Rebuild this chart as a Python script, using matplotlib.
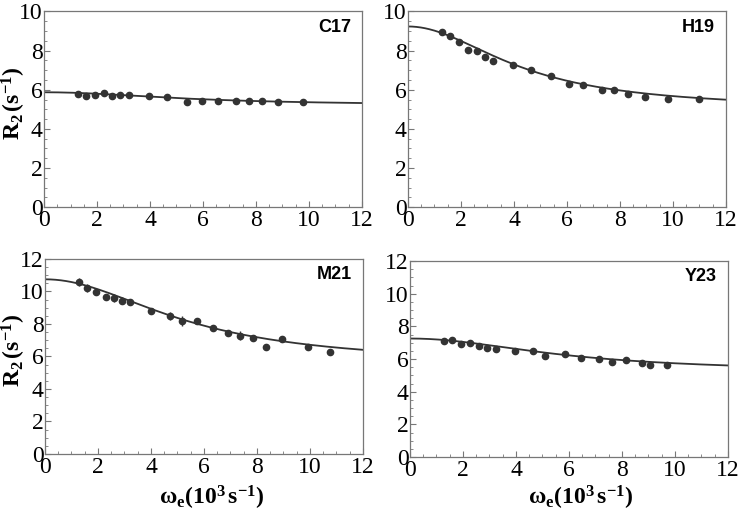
import numpy as np
import matplotlib
matplotlib.use("Agg")
import matplotlib.pyplot as plt
from matplotlib.ticker import MultipleLocator

plt.rcParams['font.family'] = 'Liberation Serif'
plt.rcParams['mathtext.fontset'] = 'custom'
plt.rcParams['mathtext.rm'] = 'Liberation Serif'
plt.rcParams['mathtext.bf'] = 'Liberation Serif:bold'
plt.rcParams['mathtext.it'] = 'Liberation Serif:italic'

# residue labels
residues = ['C17', 'H19', 'M21', 'Y23']

# measured points (omega_e in 10^3 s^-1, R2 in s^-1)
c17_x = [1.28, 1.59, 1.93, 2.27, 2.58, 2.88, 3.2, 3.98, 4.63, 5.38, 5.98, 6.58, 7.23, 7.72, 8.24, 8.84, 9.76]
c17_y = [5.78, 5.69, 5.72, 5.81, 5.66, 5.72, 5.71, 5.67, 5.62, 5.35, 5.40, 5.40, 5.43, 5.40, 5.43, 5.37, 5.37]

h19_x = [1.30, 1.57, 1.91, 2.28, 2.59, 2.90, 3.21, 3.98, 4.65, 5.39, 6.06, 6.60, 7.33, 7.78, 8.29, 8.93, 9.82, 10.97]
h19_y = [8.94, 8.72, 8.42, 8.04, 7.96, 7.67, 7.46, 7.24, 7.02, 6.68, 6.27, 6.25, 6.00, 6.00, 5.76, 5.62, 5.54, 5.54]
h19_err = [0.1, 0.15, 0.12, 0.15, 0.1, 0.12, 0.12, 0.1, 0.15, 0.12, 0.08, 0.08, 0.08, 0.08, 0.1, 0.08, 0.08, 0.08]

m21_x = [1.29, 1.59, 1.93, 2.29, 2.61, 2.90, 3.21, 4.00, 4.71, 5.17, 5.75, 6.35, 6.90, 7.35, 7.85, 8.34, 8.95, 9.92, 10.77]
m21_y = [10.57, 10.24, 9.95, 9.69, 9.58, 9.44, 9.38, 8.81, 8.50, 8.19, 8.19, 7.78, 7.43, 7.29, 7.11, 6.57, 7.09, 6.61, 6.27]
m21_err = [0.25, 0.25, 0.12, 0.12, 0.25, 0.22, 0.15, 0.12, 0.25, 0.3, 0.1, 0.1, 0.1, 0.3, 0.15, 0.08, 0.12, 0.08, 0.12]

y23_x = [1.29, 1.58, 1.91, 2.27, 2.59, 2.89, 3.24, 3.97, 4.64, 5.11, 5.84, 6.45, 7.14, 7.63, 8.14, 8.77, 9.07, 9.69]
y23_y = [7.10, 7.14, 6.94, 6.96, 6.81, 6.65, 6.63, 6.49, 6.49, 6.20, 6.33, 6.04, 6.00, 5.84, 5.92, 5.76, 5.63, 5.63]

# fitted dispersion parameters: R20, Rex, k (10^3 s^-1)
fit_r20 = [5.20, 5.00, 5.50, 5.20]
fit_rex = [0.67, 4.23, 5.25, 2.06]
fit_k = [5.6, 4.35, 5.5, 5.98]

ymax = [10, 10, 12, 12]
xs = [c17_x, h19_x, m21_x, y23_x]
ys = [c17_y, h19_y, m21_y, y23_y]
errs = [None, h19_err, m21_err, None]

W, H = 741, 518
fig = plt.figure(figsize=(W / 100, H / 100), dpi=100)
rects = [
    [0.0594, 0.600, 0.429, 0.378],
    [0.5506, 0.600, 0.429, 0.378],
    [0.0607, 0.1236, 0.429, 0.3764],
    [0.5533, 0.1178, 0.429, 0.378],
]

dark = '#333333'
wgrid = np.linspace(0, 12, 300)

for i, r in enumerate(rects):
    ax = fig.add_axes(r)
    curve = fit_r20[i] + fit_rex[i] / (1 + (wgrid / fit_k[i]) ** 2)
    ax.plot(wgrid, curve, color=dark, lw=1.3, zorder=2)
    if errs[i] is not None:
        ax.errorbar(xs[i], ys[i], yerr=errs[i], fmt='o', color=dark, ms=4.5,
                    elinewidth=1.0, capsize=0, zorder=3)
    else:
        ax.plot(xs[i], ys[i], 'o', color=dark, ms=4.5, zorder=3)
    ax.set_xlim(0, 12)
    ax.set_ylim(0, ymax[i])
    ax.xaxis.set_major_locator(MultipleLocator(2))
    ax.xaxis.set_minor_locator(MultipleLocator(0.5))
    ax.yaxis.set_major_locator(MultipleLocator(2))
    ax.yaxis.set_minor_locator(MultipleLocator(0.5))
    ax.tick_params(which='both', direction='in', color='#777777', labelsize=17,
                   top=False, right=False)
    ax.tick_params(axis='y', pad=1)
    ax.tick_params(axis='x', pad=2)
    ax.tick_params(which='major', length=4, width=0.8)
    ax.tick_params(which='minor', length=2, width=0.6)
    for s in ax.spines.values():
        s.set_color('#777777')
        s.set_linewidth(0.9)
    ax.text(0.965, 0.92, residues[i], transform=ax.transAxes, ha='right', va='center',
            fontsize=13, fontweight='bold', family='Liberation Sans')

# shared axis labels
ylab = r'$\mathbf{R_2\,(s^{-1})}$'
xlab = r'$\mathbf{\omega_e(10^3\,s^{-1})}$'
fig.text(14 / W, 1 - 103 / H, ylab, rotation=90, ha='center', va='center', fontsize=17)
fig.text(14 / W, 1 - 350 / H, ylab, rotation=90, ha='center', va='center', fontsize=17)
fig.text(212 / W, 1 - 498 / H, xlab, ha='center', va='center', fontsize=17)
fig.text(581 / W, 1 - 498 / H, xlab, ha='center', va='center', fontsize=17)

fig.savefig('out.png', dpi=100)
